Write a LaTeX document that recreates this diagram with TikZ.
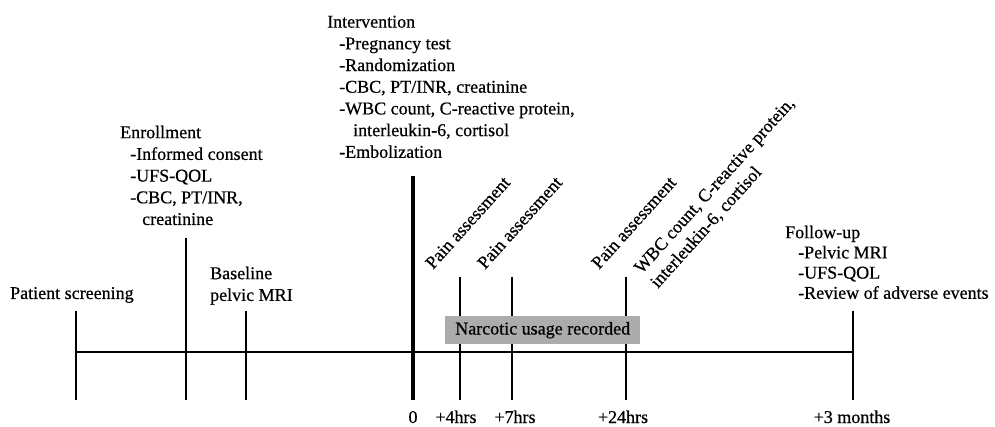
\documentclass[tikz,border=0pt]{standalone}
\usepackage{fontspec}
\setmainfont{Liberation Serif}[FakeBold=0.6]
\definecolor{boxgray}{RGB}{172,172,172}
\begin{document}
\begin{tikzpicture}[x=1pt,y=-1pt,
  txt/.style={inner sep=0pt, font=\fontsize{18}{21.7}\selectfont, align=left},
  rottxt/.style={txt, rotate=48},
  tickline/.style={line width=2.2pt},
  zeroline/.style={line width=4.5pt},
  axisline/.style={line width=2pt}]
\useasboundingbox (0,0) rectangle (995,427);
% timeline points
\coordinate (a0) at (76,352);
\coordinate (a8) at (853,352);
% tick ends
\coordinate (t1t) at (76,311);  \coordinate (t1b) at (76,400);
\coordinate (t2t) at (186,238); \coordinate (t2b) at (186,400);
\coordinate (t3t) at (246,311); \coordinate (t3b) at (246,400);
\coordinate (t4t) at (413,176); \coordinate (t4b) at (413,400);
\coordinate (t5t) at (460,277); \coordinate (t5b) at (460,400);
\coordinate (t6t) at (512,277); \coordinate (t6b) at (512,400);
\coordinate (t7t) at (626,277); \coordinate (t7b) at (626,400);
\coordinate (t8t) at (853,311); \coordinate (t8b) at (853,400);
\draw[axisline] (a0) -- (a8);
\draw[tickline] (t1t) -- (t1b);
\draw[tickline] (t2t) -- (t2b);
\draw[tickline] (t3t) -- (t3b);
\draw[zeroline] (t4t) -- (t4b);
\draw[tickline] (t5t) -- (t5b);
\draw[tickline] (t6t) -- (t6b);
\draw[tickline] (t7t) -- (t7b);
\draw[tickline] (t8t) -- (t8b);
% narcotic box
\node[txt, fill=boxgray, minimum width=195pt, minimum height=28pt, anchor=north west] (narc) at (445,316) {Narcotic usage recorded};
% upper texts
\node[txt, anchor=base west] (screen) at (10,299) {Patient screening};
\node[txt, anchor=north west] (enroll) at (120,125.5) {Enrollment\\
  \hspace*{10pt}-Informed consent\\
  \hspace*{10pt}-UFS-QOL\\
  \hspace*{10pt}-CBC, PT/INR,\\
  \hspace*{22pt}creatinine};
\node[txt, anchor=north west] (base) at (210,266.5) {Baseline\\pelvic MRI};
\node[txt, anchor=north west] (interv) at (327,15.5) {Intervention\\
  \hspace*{12pt}-Pregnancy test\\
  \hspace*{12pt}-Randomization\\
  \hspace*{12pt}-CBC, PT/INR, creatinine\\
  \hspace*{12pt}-WBC count, C-reactive protein,\\
  \hspace*{26pt}interleukin-6, cortisol\\
  \hspace*{12pt}-Embolization};
\node[txt, anchor=north west, font=\fontsize{18}{20.2}\selectfont] (follow) at (785,225.5) {Follow-up\\
  \hspace*{13pt}-Pelvic MRI\\
  \hspace*{13pt}-UFS-QOL\\
  \hspace*{13pt}-Review of adverse events};
% rotated texts
\node[rottxt, anchor=base west] (pain1) at (433,270) {Pain assessment};
\node[rottxt, anchor=base west] (pain2) at (485,270) {Pain assessment};
\node[rottxt, anchor=base west] (pain3) at (599,270) {Pain assessment};
\node[rottxt, anchor=south west] (wbc) at (660,291) {WBC count, C-reactive protein,\\interleukin-6, cortisol};
% bottom labels
\node[txt, anchor=base] (l0) at (413,423) {0};
\node[txt, anchor=base] (l4) at (456,423) {+4hrs};
\node[txt, anchor=base] (l7) at (515,423) {+7hrs};
\node[txt, anchor=base] (l24) at (623,423) {+24hrs};
\node[txt, anchor=base] (l3m) at (852,423) {+3 months};
\end{tikzpicture}
\end{document}
